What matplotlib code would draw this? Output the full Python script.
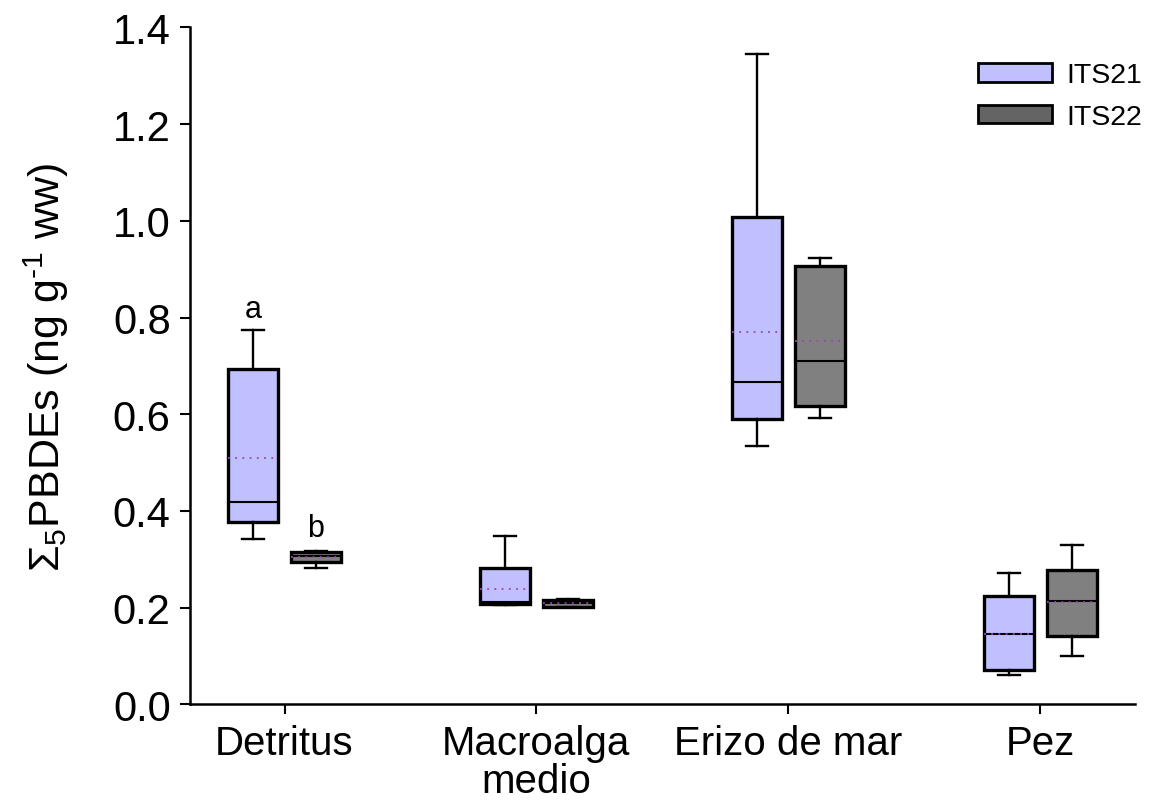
import matplotlib
matplotlib.use("Agg")
import matplotlib.pyplot as plt
from matplotlib.patches import Patch

plt.rcParams["font.family"] = ["Liberation Sans", "DejaVu Sans"]
plt.rcParams["mathtext.fontset"] = "custom"
plt.rcParams["mathtext.rm"] = "Liberation Sans"
plt.rcParams["mathtext.it"] = "Liberation Sans"

# Datos (ng g-1 ww)
categorias = ["Detritus", "Macroalga\nmedio", "Erizo de mar", "Pez"]
series = ["ITS21", "ITS22"]
colores = ["#c0c0ff", "#808080"]
colores_leyenda = ["#c0c0ff", "#646464"]

# por serie: un valor por categoría
its21_whislo = [0.342, 0.206, 0.535, 0.061]
its21_q1 = [0.378, 0.207, 0.590, 0.070]
its21_med = [0.418, 0.212, 0.667, 0.145]
its21_mean = [0.510, 0.238, 0.770, 0.146]
its21_q3 = [0.693, 0.282, 1.007, 0.223]
its21_whishi = [0.774, 0.349, 1.345, 0.271]

its22_whislo = [0.282, 0.201, 0.593, 0.100]
its22_q1 = [0.294, 0.202, 0.617, 0.142]
its22_med = [0.307, 0.210, 0.711, 0.213]
its22_mean = [0.305, 0.209, 0.751, 0.211]
its22_q3 = [0.314, 0.216, 0.907, 0.278]
its22_whishi = [0.318, 0.217, 0.924, 0.329]

letras = [("a", 0, 0, 0.801), ("b", 0, 1, 0.348)]


def stats(whislo, q1, med, mean, q3, whishi):
    return [dict(whislo=a, q1=b, med=c, mean=d, q3=e, whishi=f, fliers=[])
            for a, b, c, d, e, f in zip(whislo, q1, med, mean, q3, whishi)]


datos = [
    stats(its21_whislo, its21_q1, its21_med, its21_mean, its21_q3, its21_whishi),
    stats(its22_whislo, its22_q1, its22_med, its22_mean, its22_q3, its22_whishi),
]

fig = plt.figure(figsize=(11.59, 8.12), dpi=100)
ax = fig.add_axes([0.164, 0.1314, 0.815, 0.8336])

offset = 0.125
ancho = 0.198
for i, (st, color) in enumerate(zip(datos, colores)):
    pos = [k + (i - 0.5) * 2 * offset for k in range(len(categorias))]
    ax.bxp(st, positions=pos, widths=ancho, patch_artist=True,
           showmeans=True, meanline=True, capwidths=0.088,
           boxprops=dict(facecolor=color, edgecolor="black", linewidth=2.4),
           medianprops=dict(color="black", linewidth=1.5),
           meanprops=dict(color="#a040c0", linestyle=(0, (1, 3)), linewidth=1.3),
           whiskerprops=dict(color="black", linewidth=1.7),
           capprops=dict(color="black", linewidth=1.7))

for txt, k, i, y in letras:
    ax.text(k + (i - 0.5) * 2 * offset, y, txt, ha="center", va="baseline",
            fontsize=22)

ax.set_xlim(-0.375, 3.375)
ax.set_ylim(0, 1.4)
ax.set_xticks(range(len(categorias)))
ax.set_xticklabels(categorias, fontsize=29, linespacing=1.0)
ax.set_yticks([0.0, 0.2, 0.4, 0.6, 0.8, 1.0, 1.2, 1.4])
ax.set_yticklabels(["0.0", "0.2", "0.4", "0.6", "0.8", "1.0", "1.2", "1.4"],
                   fontsize=30)
ax.tick_params(axis="both", direction="out", length=7, width=1.5, pad=7)
ax.set_ylabel(r"$\Sigma_5$PBDEs (ng g$^{\text{-}1}$ ww)", fontsize=31, labelpad=30)
for lado in ["top", "right"]:
    ax.spines[lado].set_visible(False)
for lado in ["left", "bottom"]:
    ax.spines[lado].set_linewidth(1.8)

handles = [Patch(facecolor=c, edgecolor="black", linewidth=2) for c in colores_leyenda]
ax.legend(handles, series, loc="upper right", bbox_to_anchor=(1.02, 0.965),
          frameon=False, fontsize=20.5, handlelength=2.6, handleheight=0.6,
          handletextpad=0.5, labelspacing=0.55, borderaxespad=0)

fig.savefig("out.png", dpi=100)
